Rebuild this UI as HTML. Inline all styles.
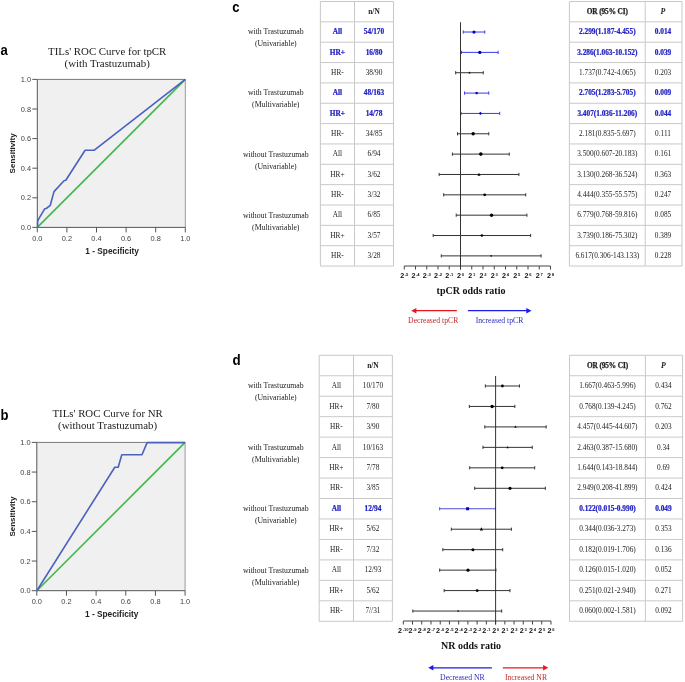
<!DOCTYPE html>
<html><head><meta charset="utf-8"><style>
html,body{margin:0;padding:0;background:#fff;}
body{width:685px;height:682px;overflow:hidden;font-family:"Liberation Sans", sans-serif;}
svg{display:block;will-change:transform;}
</style></head><body>
<svg width="685" height="682" viewBox="0 0 685 682">
<rect width="685" height="682" fill="#fff"/>
<text x="0.5" y="55" font-family='"Liberation Sans", sans-serif' font-size="15.2" font-weight="bold" font-style="normal" fill="#000" text-anchor="start"  textLength="7.27" lengthAdjust="spacingAndGlyphs">a</text>
<text x="107.2" y="54.6" font-family='"Liberation Serif", serif' font-size="10.85" font-weight="normal" font-style="normal" fill="#222" text-anchor="middle" >TILs' ROC Curve for tpCR</text>
<text x="107.2" y="66.8" font-family='"Liberation Serif", serif' font-size="10.85" font-weight="normal" font-style="normal" fill="#222" text-anchor="middle" >(with Trastuzumab)</text>
<rect x="37.3" y="79.4" width="148" height="148" fill="#f0f0f0"/>
<line x1="37.3" y1="79.4" x2="185.3" y2="79.4" stroke="#777" stroke-width="1" />
<line x1="185.3" y1="79.4" x2="185.3" y2="227.4" stroke="#999" stroke-width="1" />
<line x1="37.3" y1="79.4" x2="37.3" y2="227.4" stroke="#555" stroke-width="1" />
<line x1="37.3" y1="227.4" x2="185.3" y2="227.4" stroke="#555" stroke-width="1" />
<line x1="32.3" y1="227.4" x2="37.3" y2="227.4" stroke="#555" stroke-width="1" />
<text x="31" y="230" font-family='"Liberation Sans", sans-serif' font-size="7.4" font-weight="normal" font-style="normal" fill="#444" text-anchor="end" >0.0</text>
<line x1="37.3" y1="227.4" x2="37.3" y2="232.4" stroke="#555" stroke-width="1" />
<text x="37.3" y="240.8" font-family='"Liberation Sans", sans-serif' font-size="7.4" font-weight="normal" font-style="normal" fill="#444" text-anchor="middle" >0.0</text>
<line x1="32.3" y1="197.8" x2="37.3" y2="197.8" stroke="#555" stroke-width="1" />
<text x="31" y="200.4" font-family='"Liberation Sans", sans-serif' font-size="7.4" font-weight="normal" font-style="normal" fill="#444" text-anchor="end" >0.2</text>
<line x1="66.9" y1="227.4" x2="66.9" y2="232.4" stroke="#555" stroke-width="1" />
<text x="66.9" y="240.8" font-family='"Liberation Sans", sans-serif' font-size="7.4" font-weight="normal" font-style="normal" fill="#444" text-anchor="middle" >0.2</text>
<line x1="32.3" y1="168.2" x2="37.3" y2="168.2" stroke="#555" stroke-width="1" />
<text x="31" y="170.8" font-family='"Liberation Sans", sans-serif' font-size="7.4" font-weight="normal" font-style="normal" fill="#444" text-anchor="end" >0.4</text>
<line x1="96.5" y1="227.4" x2="96.5" y2="232.4" stroke="#555" stroke-width="1" />
<text x="96.5" y="240.8" font-family='"Liberation Sans", sans-serif' font-size="7.4" font-weight="normal" font-style="normal" fill="#444" text-anchor="middle" >0.4</text>
<line x1="32.3" y1="138.6" x2="37.3" y2="138.6" stroke="#555" stroke-width="1" />
<text x="31" y="141.2" font-family='"Liberation Sans", sans-serif' font-size="7.4" font-weight="normal" font-style="normal" fill="#444" text-anchor="end" >0.6</text>
<line x1="126.1" y1="227.4" x2="126.1" y2="232.4" stroke="#555" stroke-width="1" />
<text x="126.1" y="240.8" font-family='"Liberation Sans", sans-serif' font-size="7.4" font-weight="normal" font-style="normal" fill="#444" text-anchor="middle" >0.6</text>
<line x1="32.3" y1="109" x2="37.3" y2="109" stroke="#555" stroke-width="1" />
<text x="31" y="111.6" font-family='"Liberation Sans", sans-serif' font-size="7.4" font-weight="normal" font-style="normal" fill="#444" text-anchor="end" >0.8</text>
<line x1="155.7" y1="227.4" x2="155.7" y2="232.4" stroke="#555" stroke-width="1" />
<text x="155.7" y="240.8" font-family='"Liberation Sans", sans-serif' font-size="7.4" font-weight="normal" font-style="normal" fill="#444" text-anchor="middle" >0.8</text>
<line x1="32.3" y1="79.4" x2="37.3" y2="79.4" stroke="#555" stroke-width="1" />
<text x="31" y="82" font-family='"Liberation Sans", sans-serif' font-size="7.4" font-weight="normal" font-style="normal" fill="#444" text-anchor="end" >1.0</text>
<line x1="185.3" y1="227.4" x2="185.3" y2="232.4" stroke="#555" stroke-width="1" />
<text x="185.3" y="240.8" font-family='"Liberation Sans", sans-serif' font-size="7.4" font-weight="normal" font-style="normal" fill="#444" text-anchor="middle" >1.0</text>
<text x="14.6" y="153.4" font-family='"Liberation Sans", sans-serif' font-size="8.0" font-weight="bold" font-style="normal" fill="#222" text-anchor="middle" transform="rotate(-90 14.6 153.4)">Sensitivity</text>
<text x="112.1" y="254" font-family='"Liberation Sans", sans-serif' font-size="8.3" font-weight="bold" font-style="normal" fill="#222" text-anchor="middle" >1 - Specificity</text>
<line x1="37.3" y1="227.4" x2="185.3" y2="79.4" stroke="#3db94b" stroke-width="1.6" />
<polyline points="37.6,227.2 37.6,221.4 38.3,219.6 44.8,208.7 46.2,208.5 50.3,205.3 54,191.6 64,180.7 65.8,180.3 85.1,150.3 94,150.3 185.3,79.4" fill="none" stroke="#4a61bf" stroke-width="1.6" stroke-linejoin="round"/>
<text x="0.5" y="420" font-family='"Liberation Sans", sans-serif' font-size="15.2" font-weight="bold" font-style="normal" fill="#000" text-anchor="start"  textLength="7.99" lengthAdjust="spacingAndGlyphs">b</text>
<text x="107.6" y="417.1" font-family='"Liberation Serif", serif' font-size="10.85" font-weight="normal" font-style="normal" fill="#222" text-anchor="middle" >TILs' ROC Curve for NR</text>
<text x="107.6" y="428.7" font-family='"Liberation Serif", serif' font-size="10.85" font-weight="normal" font-style="normal" fill="#222" text-anchor="middle" >(without Trastuzumab)</text>
<rect x="36.8" y="442.4" width="148.3" height="148.3" fill="#f0f0f0"/>
<line x1="36.8" y1="442.4" x2="185.1" y2="442.4" stroke="#777" stroke-width="1" />
<line x1="185.1" y1="442.4" x2="185.1" y2="590.7" stroke="#999" stroke-width="1" />
<line x1="36.8" y1="442.4" x2="36.8" y2="590.7" stroke="#555" stroke-width="1" />
<line x1="36.8" y1="590.7" x2="185.1" y2="590.7" stroke="#555" stroke-width="1" />
<line x1="31.8" y1="590.7" x2="36.8" y2="590.7" stroke="#555" stroke-width="1" />
<text x="30.5" y="593.3" font-family='"Liberation Sans", sans-serif' font-size="7.4" font-weight="normal" font-style="normal" fill="#444" text-anchor="end" >0.0</text>
<line x1="36.8" y1="590.7" x2="36.8" y2="595.7" stroke="#555" stroke-width="1" />
<text x="36.8" y="604.1" font-family='"Liberation Sans", sans-serif' font-size="7.4" font-weight="normal" font-style="normal" fill="#444" text-anchor="middle" >0.0</text>
<line x1="31.8" y1="561.04" x2="36.8" y2="561.04" stroke="#555" stroke-width="1" />
<text x="30.5" y="563.64" font-family='"Liberation Sans", sans-serif' font-size="7.4" font-weight="normal" font-style="normal" fill="#444" text-anchor="end" >0.2</text>
<line x1="66.46" y1="590.7" x2="66.46" y2="595.7" stroke="#555" stroke-width="1" />
<text x="66.46" y="604.1" font-family='"Liberation Sans", sans-serif' font-size="7.4" font-weight="normal" font-style="normal" fill="#444" text-anchor="middle" >0.2</text>
<line x1="31.8" y1="531.38" x2="36.8" y2="531.38" stroke="#555" stroke-width="1" />
<text x="30.5" y="533.98" font-family='"Liberation Sans", sans-serif' font-size="7.4" font-weight="normal" font-style="normal" fill="#444" text-anchor="end" >0.4</text>
<line x1="96.12" y1="590.7" x2="96.12" y2="595.7" stroke="#555" stroke-width="1" />
<text x="96.12" y="604.1" font-family='"Liberation Sans", sans-serif' font-size="7.4" font-weight="normal" font-style="normal" fill="#444" text-anchor="middle" >0.4</text>
<line x1="31.8" y1="501.72" x2="36.8" y2="501.72" stroke="#555" stroke-width="1" />
<text x="30.5" y="504.32" font-family='"Liberation Sans", sans-serif' font-size="7.4" font-weight="normal" font-style="normal" fill="#444" text-anchor="end" >0.6</text>
<line x1="125.78" y1="590.7" x2="125.78" y2="595.7" stroke="#555" stroke-width="1" />
<text x="125.78" y="604.1" font-family='"Liberation Sans", sans-serif' font-size="7.4" font-weight="normal" font-style="normal" fill="#444" text-anchor="middle" >0.6</text>
<line x1="31.8" y1="472.06" x2="36.8" y2="472.06" stroke="#555" stroke-width="1" />
<text x="30.5" y="474.66" font-family='"Liberation Sans", sans-serif' font-size="7.4" font-weight="normal" font-style="normal" fill="#444" text-anchor="end" >0.8</text>
<line x1="155.44" y1="590.7" x2="155.44" y2="595.7" stroke="#555" stroke-width="1" />
<text x="155.44" y="604.1" font-family='"Liberation Sans", sans-serif' font-size="7.4" font-weight="normal" font-style="normal" fill="#444" text-anchor="middle" >0.8</text>
<line x1="31.8" y1="442.4" x2="36.8" y2="442.4" stroke="#555" stroke-width="1" />
<text x="30.5" y="445" font-family='"Liberation Sans", sans-serif' font-size="7.4" font-weight="normal" font-style="normal" fill="#444" text-anchor="end" >1.0</text>
<line x1="185.1" y1="590.7" x2="185.1" y2="595.7" stroke="#555" stroke-width="1" />
<text x="185.1" y="604.1" font-family='"Liberation Sans", sans-serif' font-size="7.4" font-weight="normal" font-style="normal" fill="#444" text-anchor="middle" >1.0</text>
<text x="14.6" y="516.55" font-family='"Liberation Sans", sans-serif' font-size="8.0" font-weight="bold" font-style="normal" fill="#222" text-anchor="middle" transform="rotate(-90 14.6 516.55)">Sensitivity</text>
<text x="111.75" y="617.3" font-family='"Liberation Sans", sans-serif' font-size="8.3" font-weight="bold" font-style="normal" fill="#222" text-anchor="middle" >1 - Specificity</text>
<line x1="36.8" y1="590.7" x2="185.1" y2="442.4" stroke="#3db94b" stroke-width="1.6" />
<polyline points="36.8,590.7 114.8,467.2 118.2,467.2 121.8,454.7 142,454.7 147.1,442.6 185.1,442.6" fill="none" stroke="#4a61bf" stroke-width="1.6" stroke-linejoin="round"/>
<text x="232.3" y="11.8" font-family='"Liberation Sans", sans-serif' font-size="15.2" font-weight="bold" font-style="normal" fill="#000" text-anchor="start"  textLength="7.27" lengthAdjust="spacingAndGlyphs">c</text>
<line x1="320.4" y1="1.5" x2="320.4" y2="266.05" stroke="#c9c9c9" stroke-width="1" />
<line x1="354.5" y1="1.5" x2="354.5" y2="266.05" stroke="#c9c9c9" stroke-width="1" />
<line x1="393.5" y1="1.5" x2="393.5" y2="266.05" stroke="#c9c9c9" stroke-width="1" />
<line x1="320.4" y1="1.5" x2="393.5" y2="1.5" stroke="#c9c9c9" stroke-width="1" />
<line x1="320.4" y1="21.85" x2="393.5" y2="21.85" stroke="#c9c9c9" stroke-width="1" />
<line x1="320.4" y1="42.2" x2="393.5" y2="42.2" stroke="#c9c9c9" stroke-width="1" />
<line x1="320.4" y1="62.55" x2="393.5" y2="62.55" stroke="#c9c9c9" stroke-width="1" />
<line x1="320.4" y1="82.9" x2="393.5" y2="82.9" stroke="#c9c9c9" stroke-width="1" />
<line x1="320.4" y1="103.25" x2="393.5" y2="103.25" stroke="#c9c9c9" stroke-width="1" />
<line x1="320.4" y1="123.6" x2="393.5" y2="123.6" stroke="#c9c9c9" stroke-width="1" />
<line x1="320.4" y1="143.95" x2="393.5" y2="143.95" stroke="#c9c9c9" stroke-width="1" />
<line x1="320.4" y1="164.3" x2="393.5" y2="164.3" stroke="#c9c9c9" stroke-width="1" />
<line x1="320.4" y1="184.65" x2="393.5" y2="184.65" stroke="#c9c9c9" stroke-width="1" />
<line x1="320.4" y1="205" x2="393.5" y2="205" stroke="#c9c9c9" stroke-width="1" />
<line x1="320.4" y1="225.35" x2="393.5" y2="225.35" stroke="#c9c9c9" stroke-width="1" />
<line x1="320.4" y1="245.7" x2="393.5" y2="245.7" stroke="#c9c9c9" stroke-width="1" />
<line x1="320.4" y1="266.05" x2="393.5" y2="266.05" stroke="#c9c9c9" stroke-width="1" />
<line x1="569.4" y1="1.5" x2="569.4" y2="266.05" stroke="#c9c9c9" stroke-width="1" />
<line x1="645.2" y1="1.5" x2="645.2" y2="266.05" stroke="#c9c9c9" stroke-width="1" />
<line x1="682" y1="1.5" x2="682" y2="266.05" stroke="#c9c9c9" stroke-width="1" />
<line x1="569.4" y1="1.5" x2="682" y2="1.5" stroke="#c9c9c9" stroke-width="1" />
<line x1="569.4" y1="21.85" x2="682" y2="21.85" stroke="#c9c9c9" stroke-width="1" />
<line x1="569.4" y1="42.2" x2="682" y2="42.2" stroke="#c9c9c9" stroke-width="1" />
<line x1="569.4" y1="62.55" x2="682" y2="62.55" stroke="#c9c9c9" stroke-width="1" />
<line x1="569.4" y1="82.9" x2="682" y2="82.9" stroke="#c9c9c9" stroke-width="1" />
<line x1="569.4" y1="103.25" x2="682" y2="103.25" stroke="#c9c9c9" stroke-width="1" />
<line x1="569.4" y1="123.6" x2="682" y2="123.6" stroke="#c9c9c9" stroke-width="1" />
<line x1="569.4" y1="143.95" x2="682" y2="143.95" stroke="#c9c9c9" stroke-width="1" />
<line x1="569.4" y1="164.3" x2="682" y2="164.3" stroke="#c9c9c9" stroke-width="1" />
<line x1="569.4" y1="184.65" x2="682" y2="184.65" stroke="#c9c9c9" stroke-width="1" />
<line x1="569.4" y1="205" x2="682" y2="205" stroke="#c9c9c9" stroke-width="1" />
<line x1="569.4" y1="225.35" x2="682" y2="225.35" stroke="#c9c9c9" stroke-width="1" />
<line x1="569.4" y1="245.7" x2="682" y2="245.7" stroke="#c9c9c9" stroke-width="1" />
<line x1="569.4" y1="266.05" x2="682" y2="266.05" stroke="#c9c9c9" stroke-width="1" />
<text x="374" y="13.98" font-family='"Liberation Serif", serif' font-size="7.4" font-weight="bold" font-style="normal" fill="#222" text-anchor="middle" >n/N</text>
<text x="607.3" y="13.98" font-family='"Liberation Serif", serif' font-size="7.3" font-weight="bold" font-style="normal" fill="#222" text-anchor="middle" letter-spacing="-0.1" stroke="#222" stroke-width="0.25">OR (95% CI)</text>
<text x="663" y="13.98" font-family='"Liberation Serif", serif' font-size="7.8" font-weight="bold" font-style="italic" fill="#222" text-anchor="middle" >P</text>
<text x="337.45" y="34.23" font-family='"Liberation Serif", serif' font-size="7.35" font-weight="bold" font-style="normal" fill="#2222c4" text-anchor="middle" stroke="#2222c4" stroke-width="0.22">All</text>
<text x="374" y="34.23" font-family='"Liberation Serif", serif' font-size="7.35" font-weight="bold" font-style="normal" fill="#2222c4" text-anchor="middle" stroke="#2222c4" stroke-width="0.22">54/170</text>
<text x="607.3" y="34.23" font-family='"Liberation Serif", serif' font-size="7.3" font-weight="bold" font-style="normal" fill="#2222c4" text-anchor="middle" stroke="#2222c4" stroke-width="0.22">2.299(1.187-4.455)</text>
<text x="663" y="34.23" font-family='"Liberation Serif", serif' font-size="7.3" font-weight="bold" font-style="normal" fill="#2222c4" text-anchor="middle" stroke="#2222c4" stroke-width="0.22">0.014</text>
<line x1="463.28" y1="32.03" x2="484.75" y2="32.03" stroke="#3a3aee" stroke-width="1" />
<line x1="463.28" y1="30.43" x2="463.28" y2="33.63" stroke="#3a3aee" stroke-width="1" />
<line x1="484.75" y1="30.43" x2="484.75" y2="33.63" stroke="#3a3aee" stroke-width="1" />
<circle cx="474.01" cy="32.03" r="1.6" fill="#0000cc"/>
<text x="337.45" y="54.58" font-family='"Liberation Serif", serif' font-size="7.35" font-weight="bold" font-style="normal" fill="#2222c4" text-anchor="middle" stroke="#2222c4" stroke-width="0.22">HR+</text>
<text x="374" y="54.58" font-family='"Liberation Serif", serif' font-size="7.35" font-weight="bold" font-style="normal" fill="#2222c4" text-anchor="middle" stroke="#2222c4" stroke-width="0.22">16/80</text>
<text x="607.3" y="54.58" font-family='"Liberation Serif", serif' font-size="7.3" font-weight="bold" font-style="normal" fill="#2222c4" text-anchor="middle" stroke="#2222c4" stroke-width="0.22">3.286(1.063-10.152)</text>
<text x="663" y="54.58" font-family='"Liberation Serif", serif' font-size="7.3" font-weight="bold" font-style="normal" fill="#2222c4" text-anchor="middle" stroke="#2222c4" stroke-width="0.22">0.039</text>
<line x1="461.49" y1="52.38" x2="498.12" y2="52.38" stroke="#3a3aee" stroke-width="1" />
<line x1="461.49" y1="50.77" x2="461.49" y2="53.98" stroke="#3a3aee" stroke-width="1" />
<line x1="498.12" y1="50.77" x2="498.12" y2="53.98" stroke="#3a3aee" stroke-width="1" />
<circle cx="479.81" cy="52.38" r="1.7" fill="#0000cc"/>
<text x="337.45" y="74.93" font-family='"Liberation Serif", serif' font-size="7.35" font-weight="normal" font-style="normal" fill="#222" text-anchor="middle" >HR-</text>
<text x="374" y="74.93" font-family='"Liberation Serif", serif' font-size="7.35" font-weight="normal" font-style="normal" fill="#222" text-anchor="middle" >38/90</text>
<text x="607.3" y="74.93" font-family='"Liberation Serif", serif' font-size="7.3" font-weight="normal" font-style="normal" fill="#222" text-anchor="middle" >1.737(0.742-4.065)</text>
<text x="663" y="74.93" font-family='"Liberation Serif", serif' font-size="7.3" font-weight="normal" font-style="normal" fill="#222" text-anchor="middle" >0.203</text>
<line x1="455.66" y1="72.73" x2="483.26" y2="72.73" stroke="#333" stroke-width="1" />
<line x1="455.66" y1="71.13" x2="455.66" y2="74.33" stroke="#333" stroke-width="1" />
<line x1="483.26" y1="71.13" x2="483.26" y2="74.33" stroke="#333" stroke-width="1" />
<polygon points="469.46,71.41 470.56,73.61 468.36,73.61" fill="#000"/>
<text x="337.45" y="95.28" font-family='"Liberation Serif", serif' font-size="7.35" font-weight="bold" font-style="normal" fill="#2222c4" text-anchor="middle" stroke="#2222c4" stroke-width="0.22">All</text>
<text x="374" y="95.28" font-family='"Liberation Serif", serif' font-size="7.35" font-weight="bold" font-style="normal" fill="#2222c4" text-anchor="middle" stroke="#2222c4" stroke-width="0.22">48/163</text>
<text x="607.3" y="95.28" font-family='"Liberation Serif", serif' font-size="7.3" font-weight="bold" font-style="normal" fill="#2222c4" text-anchor="middle" stroke="#2222c4" stroke-width="0.22">2.705(1.283-5.705)</text>
<text x="663" y="95.28" font-family='"Liberation Serif", serif' font-size="7.3" font-weight="bold" font-style="normal" fill="#2222c4" text-anchor="middle" stroke="#2222c4" stroke-width="0.22">0.009</text>
<line x1="464.54" y1="93.08" x2="488.76" y2="93.08" stroke="#3a3aee" stroke-width="1" />
<line x1="464.54" y1="91.48" x2="464.54" y2="94.67" stroke="#3a3aee" stroke-width="1" />
<line x1="488.76" y1="91.48" x2="488.76" y2="94.67" stroke="#3a3aee" stroke-width="1" />
<rect x="475.55" y="91.98" width="2.2" height="2.2" fill="#0000cc"/>
<text x="337.45" y="115.63" font-family='"Liberation Serif", serif' font-size="7.35" font-weight="bold" font-style="normal" fill="#2222c4" text-anchor="middle" stroke="#2222c4" stroke-width="0.22">HR+</text>
<text x="374" y="115.63" font-family='"Liberation Serif", serif' font-size="7.35" font-weight="bold" font-style="normal" fill="#2222c4" text-anchor="middle" stroke="#2222c4" stroke-width="0.22">14/78</text>
<text x="607.3" y="115.63" font-family='"Liberation Serif", serif' font-size="7.3" font-weight="bold" font-style="normal" fill="#2222c4" text-anchor="middle" stroke="#2222c4" stroke-width="0.22">3.407(1.036-11.206)</text>
<text x="663" y="115.63" font-family='"Liberation Serif", serif' font-size="7.3" font-weight="bold" font-style="normal" fill="#2222c4" text-anchor="middle" stroke="#2222c4" stroke-width="0.22">0.044</text>
<line x1="461.07" y1="113.43" x2="499.72" y2="113.43" stroke="#3a3aee" stroke-width="1" />
<line x1="461.07" y1="111.83" x2="461.07" y2="115.03" stroke="#3a3aee" stroke-width="1" />
<line x1="499.72" y1="111.83" x2="499.72" y2="115.03" stroke="#3a3aee" stroke-width="1" />
<polygon points="480.4,111.83 482,113.43 480.4,115.03 478.8,113.43" fill="#0000cc"/>
<text x="337.45" y="135.97" font-family='"Liberation Serif", serif' font-size="7.35" font-weight="normal" font-style="normal" fill="#222" text-anchor="middle" >HR-</text>
<text x="374" y="135.97" font-family='"Liberation Serif", serif' font-size="7.35" font-weight="normal" font-style="normal" fill="#222" text-anchor="middle" >34/85</text>
<text x="607.3" y="135.97" font-family='"Liberation Serif", serif' font-size="7.3" font-weight="normal" font-style="normal" fill="#222" text-anchor="middle" >2.181(0.835-5.697)</text>
<text x="663" y="135.97" font-family='"Liberation Serif", serif' font-size="7.3" font-weight="normal" font-style="normal" fill="#222" text-anchor="middle" >0.111</text>
<line x1="457.57" y1="133.78" x2="488.74" y2="133.78" stroke="#333" stroke-width="1" />
<line x1="457.57" y1="132.18" x2="457.57" y2="135.38" stroke="#333" stroke-width="1" />
<line x1="488.74" y1="132.18" x2="488.74" y2="135.38" stroke="#333" stroke-width="1" />
<circle cx="473.16" cy="133.78" r="1.7" fill="#000"/>
<text x="337.45" y="156.32" font-family='"Liberation Serif", serif' font-size="7.35" font-weight="normal" font-style="normal" fill="#222" text-anchor="middle" >All</text>
<text x="374" y="156.32" font-family='"Liberation Serif", serif' font-size="7.35" font-weight="normal" font-style="normal" fill="#222" text-anchor="middle" >6/94</text>
<text x="607.3" y="156.32" font-family='"Liberation Serif", serif' font-size="7.3" font-weight="normal" font-style="normal" fill="#222" text-anchor="middle" >3.500(0.607-20.183)</text>
<text x="663" y="156.32" font-family='"Liberation Serif", serif' font-size="7.3" font-weight="normal" font-style="normal" fill="#222" text-anchor="middle" >0.161</text>
<line x1="452.4" y1="154.12" x2="509.27" y2="154.12" stroke="#333" stroke-width="1" />
<line x1="452.4" y1="152.53" x2="452.4" y2="155.72" stroke="#333" stroke-width="1" />
<line x1="509.27" y1="152.53" x2="509.27" y2="155.72" stroke="#333" stroke-width="1" />
<circle cx="480.83" cy="154.12" r="1.8" fill="#000"/>
<text x="337.45" y="176.68" font-family='"Liberation Serif", serif' font-size="7.35" font-weight="normal" font-style="normal" fill="#222" text-anchor="middle" >HR+</text>
<text x="374" y="176.68" font-family='"Liberation Serif", serif' font-size="7.35" font-weight="normal" font-style="normal" fill="#222" text-anchor="middle" >3/62</text>
<text x="607.3" y="176.68" font-family='"Liberation Serif", serif' font-size="7.3" font-weight="normal" font-style="normal" fill="#222" text-anchor="middle" >3.130(0.268-36.524)</text>
<text x="663" y="176.68" font-family='"Liberation Serif", serif' font-size="7.3" font-weight="normal" font-style="normal" fill="#222" text-anchor="middle" >0.363</text>
<line x1="439.13" y1="174.48" x2="518.9" y2="174.48" stroke="#333" stroke-width="1" />
<line x1="439.13" y1="172.88" x2="439.13" y2="176.08" stroke="#333" stroke-width="1" />
<line x1="518.9" y1="172.88" x2="518.9" y2="176.08" stroke="#333" stroke-width="1" />
<polygon points="479.02,172.68 480.52,175.68 477.52,175.68" fill="#000"/>
<text x="337.45" y="197.03" font-family='"Liberation Serif", serif' font-size="7.35" font-weight="normal" font-style="normal" fill="#222" text-anchor="middle" >HR-</text>
<text x="374" y="197.03" font-family='"Liberation Serif", serif' font-size="7.35" font-weight="normal" font-style="normal" fill="#222" text-anchor="middle" >3/32</text>
<text x="607.3" y="197.03" font-family='"Liberation Serif", serif' font-size="7.3" font-weight="normal" font-style="normal" fill="#222" text-anchor="middle" >4.444(0.355-55.575)</text>
<text x="663" y="197.03" font-family='"Liberation Serif", serif' font-size="7.3" font-weight="normal" font-style="normal" fill="#222" text-anchor="middle" >0.247</text>
<line x1="443.69" y1="194.83" x2="525.71" y2="194.83" stroke="#333" stroke-width="1" />
<line x1="443.69" y1="193.23" x2="443.69" y2="196.43" stroke="#333" stroke-width="1" />
<line x1="525.71" y1="193.23" x2="525.71" y2="196.43" stroke="#333" stroke-width="1" />
<circle cx="484.71" cy="194.83" r="1.4" fill="#000"/>
<text x="337.45" y="217.38" font-family='"Liberation Serif", serif' font-size="7.35" font-weight="normal" font-style="normal" fill="#222" text-anchor="middle" >All</text>
<text x="374" y="217.38" font-family='"Liberation Serif", serif' font-size="7.35" font-weight="normal" font-style="normal" fill="#222" text-anchor="middle" >6/85</text>
<text x="607.3" y="217.38" font-family='"Liberation Serif", serif' font-size="7.3" font-weight="normal" font-style="normal" fill="#222" text-anchor="middle" >6.779(0.768-59.816)</text>
<text x="663" y="217.38" font-family='"Liberation Serif", serif' font-size="7.3" font-weight="normal" font-style="normal" fill="#222" text-anchor="middle" >0.085</text>
<line x1="456.22" y1="215.18" x2="526.9" y2="215.18" stroke="#333" stroke-width="1" />
<line x1="456.22" y1="213.58" x2="456.22" y2="216.78" stroke="#333" stroke-width="1" />
<line x1="526.9" y1="213.58" x2="526.9" y2="216.78" stroke="#333" stroke-width="1" />
<circle cx="491.56" cy="215.18" r="1.7" fill="#000"/>
<text x="337.45" y="237.72" font-family='"Liberation Serif", serif' font-size="7.35" font-weight="normal" font-style="normal" fill="#222" text-anchor="middle" >HR+</text>
<text x="374" y="237.72" font-family='"Liberation Serif", serif' font-size="7.35" font-weight="normal" font-style="normal" fill="#222" text-anchor="middle" >3/57</text>
<text x="607.3" y="237.72" font-family='"Liberation Serif", serif' font-size="7.3" font-weight="normal" font-style="normal" fill="#222" text-anchor="middle" >3.739(0.186-75.302)</text>
<text x="663" y="237.72" font-family='"Liberation Serif", serif' font-size="7.3" font-weight="normal" font-style="normal" fill="#222" text-anchor="middle" >0.389</text>
<line x1="433.2" y1="235.53" x2="530.64" y2="235.53" stroke="#333" stroke-width="1" />
<line x1="433.2" y1="233.93" x2="433.2" y2="237.12" stroke="#333" stroke-width="1" />
<line x1="530.64" y1="233.93" x2="530.64" y2="237.12" stroke="#333" stroke-width="1" />
<circle cx="481.9" cy="235.53" r="1.3" fill="#000"/>
<text x="337.45" y="258.08" font-family='"Liberation Serif", serif' font-size="7.35" font-weight="normal" font-style="normal" fill="#222" text-anchor="middle" >HR-</text>
<text x="374" y="258.08" font-family='"Liberation Serif", serif' font-size="7.35" font-weight="normal" font-style="normal" fill="#222" text-anchor="middle" >3/28</text>
<text x="607.3" y="258.08" font-family='"Liberation Serif", serif' font-size="7.3" font-weight="normal" font-style="normal" fill="#222" text-anchor="middle" >6.617(0.306-143.133)</text>
<text x="663" y="258.08" font-family='"Liberation Serif", serif' font-size="7.3" font-weight="normal" font-style="normal" fill="#222" text-anchor="middle" >0.228</text>
<line x1="441.28" y1="255.88" x2="541.06" y2="255.88" stroke="#333" stroke-width="1" />
<line x1="441.28" y1="254.28" x2="441.28" y2="257.48" stroke="#333" stroke-width="1" />
<line x1="541.06" y1="254.28" x2="541.06" y2="257.48" stroke="#333" stroke-width="1" />
<circle cx="491.17" cy="255.88" r="0.8" fill="#000"/>
<text x="275.8" y="34.43" font-family='"Liberation Serif", serif' font-size="7.75" font-weight="normal" font-style="normal" fill="#222" text-anchor="middle" >with Trastuzumab</text>
<text x="275.8" y="46.43" font-family='"Liberation Serif", serif' font-size="7.75" font-weight="normal" font-style="normal" fill="#222" text-anchor="middle" >(Univariable)</text>
<text x="275.8" y="95.48" font-family='"Liberation Serif", serif' font-size="7.75" font-weight="normal" font-style="normal" fill="#222" text-anchor="middle" >with Trastuzumab</text>
<text x="275.8" y="107.48" font-family='"Liberation Serif", serif' font-size="7.75" font-weight="normal" font-style="normal" fill="#222" text-anchor="middle" >(Multivariable)</text>
<text x="275.8" y="156.53" font-family='"Liberation Serif", serif' font-size="7.75" font-weight="normal" font-style="normal" fill="#222" text-anchor="middle" >without Trastuzumab</text>
<text x="275.8" y="168.53" font-family='"Liberation Serif", serif' font-size="7.75" font-weight="normal" font-style="normal" fill="#222" text-anchor="middle" >(Univariable)</text>
<text x="275.8" y="217.58" font-family='"Liberation Serif", serif' font-size="7.75" font-weight="normal" font-style="normal" fill="#222" text-anchor="middle" >without Trastuzumab</text>
<text x="275.8" y="229.58" font-family='"Liberation Serif", serif' font-size="7.75" font-weight="normal" font-style="normal" fill="#222" text-anchor="middle" >(Multivariable)</text>
<line x1="404.25" y1="266" x2="550.5" y2="266" stroke="#444" stroke-width="1" />
<line x1="404.25" y1="266" x2="404.25" y2="269.5" stroke="#444" stroke-width="1" />
<text y="277.7" font-family='"Liberation Sans", sans-serif' font-weight="bold" fill="#111" text-anchor="middle" x="404.25"><tspan font-size="7.2">2</tspan><tspan font-size="4.1" dy="-2.1" dx="0.6">-5</tspan></text>
<line x1="415.5" y1="266" x2="415.5" y2="269.5" stroke="#444" stroke-width="1" />
<text y="277.7" font-family='"Liberation Sans", sans-serif' font-weight="bold" fill="#111" text-anchor="middle" x="415.5"><tspan font-size="7.2">2</tspan><tspan font-size="4.1" dy="-2.1" dx="0.6">-4</tspan></text>
<line x1="426.75" y1="266" x2="426.75" y2="269.5" stroke="#444" stroke-width="1" />
<text y="277.7" font-family='"Liberation Sans", sans-serif' font-weight="bold" fill="#111" text-anchor="middle" x="426.75"><tspan font-size="7.2">2</tspan><tspan font-size="4.1" dy="-2.1" dx="0.6">-3</tspan></text>
<line x1="438" y1="266" x2="438" y2="269.5" stroke="#444" stroke-width="1" />
<text y="277.7" font-family='"Liberation Sans", sans-serif' font-weight="bold" fill="#111" text-anchor="middle" x="438"><tspan font-size="7.2">2</tspan><tspan font-size="4.1" dy="-2.1" dx="0.6">-2</tspan></text>
<line x1="449.25" y1="266" x2="449.25" y2="269.5" stroke="#444" stroke-width="1" />
<text y="277.7" font-family='"Liberation Sans", sans-serif' font-weight="bold" fill="#111" text-anchor="middle" x="449.25"><tspan font-size="7.2">2</tspan><tspan font-size="4.1" dy="-2.1" dx="0.6">-1</tspan></text>
<line x1="460.5" y1="266" x2="460.5" y2="269.5" stroke="#444" stroke-width="1" />
<text y="277.7" font-family='"Liberation Sans", sans-serif' font-weight="bold" fill="#111" text-anchor="middle" x="460.5"><tspan font-size="7.2">2</tspan><tspan font-size="4.1" dy="-2.1" dx="0.6">0</tspan></text>
<line x1="471.75" y1="266" x2="471.75" y2="269.5" stroke="#444" stroke-width="1" />
<text y="277.7" font-family='"Liberation Sans", sans-serif' font-weight="bold" fill="#111" text-anchor="middle" x="471.75"><tspan font-size="7.2">2</tspan><tspan font-size="4.1" dy="-2.1" dx="0.6">1</tspan></text>
<line x1="483" y1="266" x2="483" y2="269.5" stroke="#444" stroke-width="1" />
<text y="277.7" font-family='"Liberation Sans", sans-serif' font-weight="bold" fill="#111" text-anchor="middle" x="483"><tspan font-size="7.2">2</tspan><tspan font-size="4.1" dy="-2.1" dx="0.6">2</tspan></text>
<line x1="494.25" y1="266" x2="494.25" y2="269.5" stroke="#444" stroke-width="1" />
<text y="277.7" font-family='"Liberation Sans", sans-serif' font-weight="bold" fill="#111" text-anchor="middle" x="494.25"><tspan font-size="7.2">2</tspan><tspan font-size="4.1" dy="-2.1" dx="0.6">3</tspan></text>
<line x1="505.5" y1="266" x2="505.5" y2="269.5" stroke="#444" stroke-width="1" />
<text y="277.7" font-family='"Liberation Sans", sans-serif' font-weight="bold" fill="#111" text-anchor="middle" x="505.5"><tspan font-size="7.2">2</tspan><tspan font-size="4.1" dy="-2.1" dx="0.6">4</tspan></text>
<line x1="516.75" y1="266" x2="516.75" y2="269.5" stroke="#444" stroke-width="1" />
<text y="277.7" font-family='"Liberation Sans", sans-serif' font-weight="bold" fill="#111" text-anchor="middle" x="516.75"><tspan font-size="7.2">2</tspan><tspan font-size="4.1" dy="-2.1" dx="0.6">5</tspan></text>
<line x1="528" y1="266" x2="528" y2="269.5" stroke="#444" stroke-width="1" />
<text y="277.7" font-family='"Liberation Sans", sans-serif' font-weight="bold" fill="#111" text-anchor="middle" x="528"><tspan font-size="7.2">2</tspan><tspan font-size="4.1" dy="-2.1" dx="0.6">6</tspan></text>
<line x1="539.25" y1="266" x2="539.25" y2="269.5" stroke="#444" stroke-width="1" />
<text y="277.7" font-family='"Liberation Sans", sans-serif' font-weight="bold" fill="#111" text-anchor="middle" x="539.25"><tspan font-size="7.2">2</tspan><tspan font-size="4.1" dy="-2.1" dx="0.6">7</tspan></text>
<line x1="550.5" y1="266" x2="550.5" y2="269.5" stroke="#444" stroke-width="1" />
<text y="277.7" font-family='"Liberation Sans", sans-serif' font-weight="bold" fill="#111" text-anchor="middle" x="550.5"><tspan font-size="7.2">2</tspan><tspan font-size="4.1" dy="-2.1" dx="0.6">8</tspan></text>
<line x1="460.5" y1="22.2" x2="460.5" y2="269.5" stroke="#333" stroke-width="1" />
<text x="471" y="294.3" font-family='"Liberation Serif", serif' font-size="10" font-weight="bold" font-style="normal" fill="#111" text-anchor="middle" >tpCR odds ratio</text>
<line x1="456.8" y1="310.7" x2="414.7" y2="310.7" stroke="#e8161b" stroke-width="1.3" />
<polygon points="411.2,310.7 416.4,308 416.4,313.4" fill="#e8161b"/>
<text x="433.2" y="323.2" font-family='"Liberation Serif", serif' font-size="7.7" font-weight="normal" font-style="normal" fill="#c42828" text-anchor="middle" >Decreased tpCR</text>
<line x1="467.9" y1="310.7" x2="528" y2="310.7" stroke="#1c1ce8" stroke-width="1.3" />
<polygon points="531.5,310.7 526.3,308 526.3,313.4" fill="#1c1ce8"/>
<text x="499.5" y="323.2" font-family='"Liberation Serif", serif' font-size="7.7" font-weight="normal" font-style="normal" fill="#2c2cb8" text-anchor="middle" >Increased tpCR</text>
<text x="232.5" y="365" font-family='"Liberation Sans", sans-serif' font-size="15.2" font-weight="bold" font-style="normal" fill="#000" text-anchor="start"  textLength="8.17" lengthAdjust="spacingAndGlyphs">d</text>
<line x1="319.2" y1="355.3" x2="319.2" y2="621.28" stroke="#c9c9c9" stroke-width="1" />
<line x1="353.5" y1="355.3" x2="353.5" y2="621.28" stroke="#c9c9c9" stroke-width="1" />
<line x1="392.4" y1="355.3" x2="392.4" y2="621.28" stroke="#c9c9c9" stroke-width="1" />
<line x1="319.2" y1="355.3" x2="392.4" y2="355.3" stroke="#c9c9c9" stroke-width="1" />
<line x1="319.2" y1="375.76" x2="392.4" y2="375.76" stroke="#c9c9c9" stroke-width="1" />
<line x1="319.2" y1="396.22" x2="392.4" y2="396.22" stroke="#c9c9c9" stroke-width="1" />
<line x1="319.2" y1="416.68" x2="392.4" y2="416.68" stroke="#c9c9c9" stroke-width="1" />
<line x1="319.2" y1="437.14" x2="392.4" y2="437.14" stroke="#c9c9c9" stroke-width="1" />
<line x1="319.2" y1="457.6" x2="392.4" y2="457.6" stroke="#c9c9c9" stroke-width="1" />
<line x1="319.2" y1="478.06" x2="392.4" y2="478.06" stroke="#c9c9c9" stroke-width="1" />
<line x1="319.2" y1="498.52" x2="392.4" y2="498.52" stroke="#c9c9c9" stroke-width="1" />
<line x1="319.2" y1="518.98" x2="392.4" y2="518.98" stroke="#c9c9c9" stroke-width="1" />
<line x1="319.2" y1="539.44" x2="392.4" y2="539.44" stroke="#c9c9c9" stroke-width="1" />
<line x1="319.2" y1="559.9" x2="392.4" y2="559.9" stroke="#c9c9c9" stroke-width="1" />
<line x1="319.2" y1="580.36" x2="392.4" y2="580.36" stroke="#c9c9c9" stroke-width="1" />
<line x1="319.2" y1="600.82" x2="392.4" y2="600.82" stroke="#c9c9c9" stroke-width="1" />
<line x1="319.2" y1="621.28" x2="392.4" y2="621.28" stroke="#c9c9c9" stroke-width="1" />
<line x1="569.5" y1="355.3" x2="569.5" y2="621.28" stroke="#c9c9c9" stroke-width="1" />
<line x1="645.4" y1="355.3" x2="645.4" y2="621.28" stroke="#c9c9c9" stroke-width="1" />
<line x1="682.6" y1="355.3" x2="682.6" y2="621.28" stroke="#c9c9c9" stroke-width="1" />
<line x1="569.5" y1="355.3" x2="682.6" y2="355.3" stroke="#c9c9c9" stroke-width="1" />
<line x1="569.5" y1="375.76" x2="682.6" y2="375.76" stroke="#c9c9c9" stroke-width="1" />
<line x1="569.5" y1="396.22" x2="682.6" y2="396.22" stroke="#c9c9c9" stroke-width="1" />
<line x1="569.5" y1="416.68" x2="682.6" y2="416.68" stroke="#c9c9c9" stroke-width="1" />
<line x1="569.5" y1="437.14" x2="682.6" y2="437.14" stroke="#c9c9c9" stroke-width="1" />
<line x1="569.5" y1="457.6" x2="682.6" y2="457.6" stroke="#c9c9c9" stroke-width="1" />
<line x1="569.5" y1="478.06" x2="682.6" y2="478.06" stroke="#c9c9c9" stroke-width="1" />
<line x1="569.5" y1="498.52" x2="682.6" y2="498.52" stroke="#c9c9c9" stroke-width="1" />
<line x1="569.5" y1="518.98" x2="682.6" y2="518.98" stroke="#c9c9c9" stroke-width="1" />
<line x1="569.5" y1="539.44" x2="682.6" y2="539.44" stroke="#c9c9c9" stroke-width="1" />
<line x1="569.5" y1="559.9" x2="682.6" y2="559.9" stroke="#c9c9c9" stroke-width="1" />
<line x1="569.5" y1="580.36" x2="682.6" y2="580.36" stroke="#c9c9c9" stroke-width="1" />
<line x1="569.5" y1="600.82" x2="682.6" y2="600.82" stroke="#c9c9c9" stroke-width="1" />
<line x1="569.5" y1="621.28" x2="682.6" y2="621.28" stroke="#c9c9c9" stroke-width="1" />
<text x="372.95" y="367.83" font-family='"Liberation Serif", serif' font-size="7.4" font-weight="bold" font-style="normal" fill="#222" text-anchor="middle" >n/N</text>
<text x="607.45" y="367.83" font-family='"Liberation Serif", serif' font-size="7.3" font-weight="bold" font-style="normal" fill="#222" text-anchor="middle" letter-spacing="-0.1" stroke="#222" stroke-width="0.25">OR (95% CI)</text>
<text x="663.4" y="367.83" font-family='"Liberation Serif", serif' font-size="7.8" font-weight="bold" font-style="italic" fill="#222" text-anchor="middle" >P</text>
<text x="336.35" y="388.19" font-family='"Liberation Serif", serif' font-size="7.35" font-weight="normal" font-style="normal" fill="#222" text-anchor="middle" >All</text>
<text x="372.95" y="388.19" font-family='"Liberation Serif", serif' font-size="7.35" font-weight="normal" font-style="normal" fill="#222" text-anchor="middle" >10/170</text>
<text x="607.45" y="388.19" font-family='"Liberation Serif", serif' font-size="7.3" font-weight="normal" font-style="normal" fill="#222" text-anchor="middle" >1.667(0.463-5.996)</text>
<text x="663.4" y="388.19" font-family='"Liberation Serif", serif' font-size="7.3" font-weight="normal" font-style="normal" fill="#222" text-anchor="middle" >0.434</text>
<line x1="485.35" y1="385.99" x2="519.45" y2="385.99" stroke="#333" stroke-width="1" />
<line x1="485.35" y1="384.39" x2="485.35" y2="387.59" stroke="#333" stroke-width="1" />
<line x1="519.45" y1="384.39" x2="519.45" y2="387.59" stroke="#333" stroke-width="1" />
<circle cx="502.4" cy="385.99" r="1.4" fill="#000"/>
<text x="336.35" y="408.65" font-family='"Liberation Serif", serif' font-size="7.35" font-weight="normal" font-style="normal" fill="#222" text-anchor="middle" >HR+</text>
<text x="372.95" y="408.65" font-family='"Liberation Serif", serif' font-size="7.35" font-weight="normal" font-style="normal" fill="#222" text-anchor="middle" >7/80</text>
<text x="607.45" y="408.65" font-family='"Liberation Serif", serif' font-size="7.3" font-weight="normal" font-style="normal" fill="#222" text-anchor="middle" >0.768(0.139-4.245)</text>
<text x="663.4" y="408.65" font-family='"Liberation Serif", serif' font-size="7.3" font-weight="normal" font-style="normal" fill="#222" text-anchor="middle" >0.762</text>
<line x1="469.32" y1="406.45" x2="514.85" y2="406.45" stroke="#333" stroke-width="1" />
<line x1="469.32" y1="404.85" x2="469.32" y2="408.05" stroke="#333" stroke-width="1" />
<line x1="514.85" y1="404.85" x2="514.85" y2="408.05" stroke="#333" stroke-width="1" />
<circle cx="492.09" cy="406.45" r="1.7" fill="#000"/>
<text x="336.35" y="429.11" font-family='"Liberation Serif", serif' font-size="7.35" font-weight="normal" font-style="normal" fill="#222" text-anchor="middle" >HR-</text>
<text x="372.95" y="429.11" font-family='"Liberation Serif", serif' font-size="7.35" font-weight="normal" font-style="normal" fill="#222" text-anchor="middle" >3/90</text>
<text x="607.45" y="429.11" font-family='"Liberation Serif", serif' font-size="7.3" font-weight="normal" font-style="normal" fill="#222" text-anchor="middle" >4.457(0.445-44.607)</text>
<text x="663.4" y="429.11" font-family='"Liberation Serif", serif' font-size="7.3" font-weight="normal" font-style="normal" fill="#222" text-anchor="middle" >0.203</text>
<line x1="484.82" y1="426.91" x2="546.17" y2="426.91" stroke="#333" stroke-width="1" />
<line x1="484.82" y1="425.31" x2="484.82" y2="428.51" stroke="#333" stroke-width="1" />
<line x1="546.17" y1="425.31" x2="546.17" y2="428.51" stroke="#333" stroke-width="1" />
<polygon points="515.5,425.59 516.6,427.79 514.4,427.79" fill="#000"/>
<text x="336.35" y="449.57" font-family='"Liberation Serif", serif' font-size="7.35" font-weight="normal" font-style="normal" fill="#222" text-anchor="middle" >All</text>
<text x="372.95" y="449.57" font-family='"Liberation Serif", serif' font-size="7.35" font-weight="normal" font-style="normal" fill="#222" text-anchor="middle" >10/163</text>
<text x="607.45" y="449.57" font-family='"Liberation Serif", serif' font-size="7.3" font-weight="normal" font-style="normal" fill="#222" text-anchor="middle" >2.463(0.387-15.680)</text>
<text x="663.4" y="449.57" font-family='"Liberation Serif", serif' font-size="7.3" font-weight="normal" font-style="normal" fill="#222" text-anchor="middle" >0.34</text>
<line x1="482.96" y1="447.37" x2="532.25" y2="447.37" stroke="#333" stroke-width="1" />
<line x1="482.96" y1="445.77" x2="482.96" y2="448.97" stroke="#333" stroke-width="1" />
<line x1="532.25" y1="445.77" x2="532.25" y2="448.97" stroke="#333" stroke-width="1" />
<polygon points="507.6,446.05 508.7,448.25 506.5,448.25" fill="#000"/>
<text x="336.35" y="470.03" font-family='"Liberation Serif", serif' font-size="7.35" font-weight="normal" font-style="normal" fill="#222" text-anchor="middle" >HR+</text>
<text x="372.95" y="470.03" font-family='"Liberation Serif", serif' font-size="7.35" font-weight="normal" font-style="normal" fill="#222" text-anchor="middle" >7/78</text>
<text x="607.45" y="470.03" font-family='"Liberation Serif", serif' font-size="7.3" font-weight="normal" font-style="normal" fill="#222" text-anchor="middle" >1.644(0.143-18.844)</text>
<text x="663.4" y="470.03" font-family='"Liberation Serif", serif' font-size="7.3" font-weight="normal" font-style="normal" fill="#222" text-anchor="middle" >0.69</text>
<line x1="469.7" y1="467.83" x2="534.7" y2="467.83" stroke="#333" stroke-width="1" />
<line x1="469.7" y1="466.23" x2="469.7" y2="469.43" stroke="#333" stroke-width="1" />
<line x1="534.7" y1="466.23" x2="534.7" y2="469.43" stroke="#333" stroke-width="1" />
<circle cx="502.22" cy="467.83" r="1.4" fill="#000"/>
<text x="336.35" y="490.49" font-family='"Liberation Serif", serif' font-size="7.35" font-weight="normal" font-style="normal" fill="#222" text-anchor="middle" >HR-</text>
<text x="372.95" y="490.49" font-family='"Liberation Serif", serif' font-size="7.35" font-weight="normal" font-style="normal" fill="#222" text-anchor="middle" >3/85</text>
<text x="607.45" y="490.49" font-family='"Liberation Serif", serif' font-size="7.3" font-weight="normal" font-style="normal" fill="#222" text-anchor="middle" >2.949(0.208-41.899)</text>
<text x="663.4" y="490.49" font-family='"Liberation Serif", serif' font-size="7.3" font-weight="normal" font-style="normal" fill="#222" text-anchor="middle" >0.424</text>
<line x1="474.69" y1="488.29" x2="545.34" y2="488.29" stroke="#333" stroke-width="1" />
<line x1="474.69" y1="486.69" x2="474.69" y2="489.89" stroke="#333" stroke-width="1" />
<line x1="545.34" y1="486.69" x2="545.34" y2="489.89" stroke="#333" stroke-width="1" />
<circle cx="510" cy="488.29" r="1.6" fill="#000"/>
<text x="336.35" y="510.95" font-family='"Liberation Serif", serif' font-size="7.35" font-weight="bold" font-style="normal" fill="#2222c4" text-anchor="middle" stroke="#2222c4" stroke-width="0.22">All</text>
<text x="372.95" y="510.95" font-family='"Liberation Serif", serif' font-size="7.35" font-weight="bold" font-style="normal" fill="#2222c4" text-anchor="middle" stroke="#2222c4" stroke-width="0.22">12/94</text>
<text x="607.45" y="510.95" font-family='"Liberation Serif", serif' font-size="7.3" font-weight="bold" font-style="normal" fill="#2222c4" text-anchor="middle" stroke="#2222c4" stroke-width="0.22">0.122(0.015-0.990)</text>
<text x="663.4" y="510.95" font-family='"Liberation Serif", serif' font-size="7.3" font-weight="bold" font-style="normal" fill="#2222c4" text-anchor="middle" stroke="#2222c4" stroke-width="0.22">0.049</text>
<line x1="439.68" y1="508.75" x2="495.47" y2="508.75" stroke="#4f4fd6" stroke-width="1" />
<line x1="439.68" y1="507.15" x2="439.68" y2="510.35" stroke="#4f4fd6" stroke-width="1" />
<line x1="495.47" y1="507.15" x2="495.47" y2="510.35" stroke="#4f4fd6" stroke-width="1" />
<rect x="466.09" y="507.25" width="3" height="3" fill="#0000cc"/>
<text x="336.35" y="531.41" font-family='"Liberation Serif", serif' font-size="7.35" font-weight="normal" font-style="normal" fill="#222" text-anchor="middle" >HR+</text>
<text x="372.95" y="531.41" font-family='"Liberation Serif", serif' font-size="7.35" font-weight="normal" font-style="normal" fill="#222" text-anchor="middle" >5/62</text>
<text x="607.45" y="531.41" font-family='"Liberation Serif", serif' font-size="7.3" font-weight="normal" font-style="normal" fill="#222" text-anchor="middle" >0.344(0.036-3.273)</text>
<text x="663.4" y="531.41" font-family='"Liberation Serif", serif' font-size="7.3" font-weight="normal" font-style="normal" fill="#222" text-anchor="middle" >0.353</text>
<line x1="451.33" y1="529.21" x2="511.39" y2="529.21" stroke="#333" stroke-width="1" />
<line x1="451.33" y1="527.61" x2="451.33" y2="530.81" stroke="#333" stroke-width="1" />
<line x1="511.39" y1="527.61" x2="511.39" y2="530.81" stroke="#333" stroke-width="1" />
<polygon points="481.39,527.29 482.99,530.49 479.79,530.49" fill="#000"/>
<text x="336.35" y="551.87" font-family='"Liberation Serif", serif' font-size="7.35" font-weight="normal" font-style="normal" fill="#222" text-anchor="middle" >HR-</text>
<text x="372.95" y="551.87" font-family='"Liberation Serif", serif' font-size="7.35" font-weight="normal" font-style="normal" fill="#222" text-anchor="middle" >7/32</text>
<text x="607.45" y="551.87" font-family='"Liberation Serif", serif' font-size="7.3" font-weight="normal" font-style="normal" fill="#222" text-anchor="middle" >0.182(0.019-1.706)</text>
<text x="663.4" y="551.87" font-family='"Liberation Serif", serif' font-size="7.3" font-weight="normal" font-style="normal" fill="#222" text-anchor="middle" >0.136</text>
<line x1="442.82" y1="549.67" x2="502.71" y2="549.67" stroke="#333" stroke-width="1" />
<line x1="442.82" y1="548.07" x2="442.82" y2="551.27" stroke="#333" stroke-width="1" />
<line x1="502.71" y1="548.07" x2="502.71" y2="551.27" stroke="#333" stroke-width="1" />
<circle cx="472.91" cy="549.67" r="1.5" fill="#000"/>
<text x="336.35" y="572.33" font-family='"Liberation Serif", serif' font-size="7.35" font-weight="normal" font-style="normal" fill="#222" text-anchor="middle" >All</text>
<text x="372.95" y="572.33" font-family='"Liberation Serif", serif' font-size="7.35" font-weight="normal" font-style="normal" fill="#222" text-anchor="middle" >12/93</text>
<text x="607.45" y="572.33" font-family='"Liberation Serif", serif' font-size="7.3" font-weight="normal" font-style="normal" fill="#222" text-anchor="middle" >0.126(0.015-1.020)</text>
<text x="663.4" y="572.33" font-family='"Liberation Serif", serif' font-size="7.3" font-weight="normal" font-style="normal" fill="#222" text-anchor="middle" >0.052</text>
<line x1="439.68" y1="570.13" x2="495.86" y2="570.13" stroke="#333" stroke-width="1" />
<line x1="439.68" y1="568.53" x2="439.68" y2="571.73" stroke="#333" stroke-width="1" />
<line x1="495.86" y1="568.53" x2="495.86" y2="571.73" stroke="#333" stroke-width="1" />
<circle cx="468.02" cy="570.13" r="1.6" fill="#000"/>
<text x="336.35" y="592.79" font-family='"Liberation Serif", serif' font-size="7.35" font-weight="normal" font-style="normal" fill="#222" text-anchor="middle" >HR+</text>
<text x="372.95" y="592.79" font-family='"Liberation Serif", serif' font-size="7.35" font-weight="normal" font-style="normal" fill="#222" text-anchor="middle" >5/62</text>
<text x="607.45" y="592.79" font-family='"Liberation Serif", serif' font-size="7.3" font-weight="normal" font-style="normal" fill="#222" text-anchor="middle" >0.251(0.021-2.940)</text>
<text x="663.4" y="592.79" font-family='"Liberation Serif", serif' font-size="7.3" font-weight="normal" font-style="normal" fill="#222" text-anchor="middle" >0.271</text>
<line x1="444.16" y1="590.59" x2="509.96" y2="590.59" stroke="#333" stroke-width="1" />
<line x1="444.16" y1="588.99" x2="444.16" y2="592.19" stroke="#333" stroke-width="1" />
<line x1="509.96" y1="588.99" x2="509.96" y2="592.19" stroke="#333" stroke-width="1" />
<circle cx="477.19" cy="590.59" r="1.4" fill="#000"/>
<text x="336.35" y="613.25" font-family='"Liberation Serif", serif' font-size="7.35" font-weight="normal" font-style="normal" fill="#222" text-anchor="middle" >HR-</text>
<text x="372.95" y="613.25" font-family='"Liberation Serif", serif' font-size="7.35" font-weight="normal" font-style="normal" fill="#222" text-anchor="middle" >7//31</text>
<text x="607.45" y="613.25" font-family='"Liberation Serif", serif' font-size="7.3" font-weight="normal" font-style="normal" fill="#222" text-anchor="middle" >0.060(0.002-1.581)</text>
<text x="663.4" y="613.25" font-family='"Liberation Serif", serif' font-size="7.3" font-weight="normal" font-style="normal" fill="#222" text-anchor="middle" >0.092</text>
<line x1="412.85" y1="611.05" x2="501.7" y2="611.05" stroke="#333" stroke-width="1" />
<line x1="412.85" y1="609.45" x2="412.85" y2="612.65" stroke="#333" stroke-width="1" />
<line x1="501.7" y1="609.45" x2="501.7" y2="612.65" stroke="#333" stroke-width="1" />
<circle cx="458.14" cy="611.05" r="0.8" fill="#000"/>
<text x="275.8" y="388.39" font-family='"Liberation Serif", serif' font-size="7.75" font-weight="normal" font-style="normal" fill="#222" text-anchor="middle" >with Trastuzumab</text>
<text x="275.8" y="400.39" font-family='"Liberation Serif", serif' font-size="7.75" font-weight="normal" font-style="normal" fill="#222" text-anchor="middle" >(Univariable)</text>
<text x="275.8" y="449.77" font-family='"Liberation Serif", serif' font-size="7.75" font-weight="normal" font-style="normal" fill="#222" text-anchor="middle" >with Trastuzumab</text>
<text x="275.8" y="461.77" font-family='"Liberation Serif", serif' font-size="7.75" font-weight="normal" font-style="normal" fill="#222" text-anchor="middle" >(Multivariable)</text>
<text x="275.8" y="511.15" font-family='"Liberation Serif", serif' font-size="7.75" font-weight="normal" font-style="normal" fill="#222" text-anchor="middle" >without Trastuzumab</text>
<text x="275.8" y="523.15" font-family='"Liberation Serif", serif' font-size="7.75" font-weight="normal" font-style="normal" fill="#222" text-anchor="middle" >(Univariable)</text>
<text x="275.8" y="572.53" font-family='"Liberation Serif", serif' font-size="7.75" font-weight="normal" font-style="normal" fill="#222" text-anchor="middle" >without Trastuzumab</text>
<text x="275.8" y="584.53" font-family='"Liberation Serif", serif' font-size="7.75" font-weight="normal" font-style="normal" fill="#222" text-anchor="middle" >(Multivariable)</text>
<line x1="403.3" y1="621" x2="550.98" y2="621" stroke="#444" stroke-width="1" />
<line x1="403.3" y1="621" x2="403.3" y2="624.5" stroke="#444" stroke-width="1" />
<text y="632.7" font-family='"Liberation Sans", sans-serif' font-weight="bold" fill="#111" text-anchor="middle" x="403.3"><tspan font-size="7.2">2</tspan><tspan font-size="4.1" dy="-2.1" dx="0.6">-10</tspan></text>
<line x1="412.53" y1="621" x2="412.53" y2="624.5" stroke="#444" stroke-width="1" />
<text y="632.7" font-family='"Liberation Sans", sans-serif' font-weight="bold" fill="#111" text-anchor="middle" x="412.53"><tspan font-size="7.2">2</tspan><tspan font-size="4.1" dy="-2.1" dx="0.6">-9</tspan></text>
<line x1="421.76" y1="621" x2="421.76" y2="624.5" stroke="#444" stroke-width="1" />
<text y="632.7" font-family='"Liberation Sans", sans-serif' font-weight="bold" fill="#111" text-anchor="middle" x="421.76"><tspan font-size="7.2">2</tspan><tspan font-size="4.1" dy="-2.1" dx="0.6">-8</tspan></text>
<line x1="430.99" y1="621" x2="430.99" y2="624.5" stroke="#444" stroke-width="1" />
<text y="632.7" font-family='"Liberation Sans", sans-serif' font-weight="bold" fill="#111" text-anchor="middle" x="430.99"><tspan font-size="7.2">2</tspan><tspan font-size="4.1" dy="-2.1" dx="0.6">-7</tspan></text>
<line x1="440.22" y1="621" x2="440.22" y2="624.5" stroke="#444" stroke-width="1" />
<text y="632.7" font-family='"Liberation Sans", sans-serif' font-weight="bold" fill="#111" text-anchor="middle" x="440.22"><tspan font-size="7.2">2</tspan><tspan font-size="4.1" dy="-2.1" dx="0.6">-6</tspan></text>
<line x1="449.45" y1="621" x2="449.45" y2="624.5" stroke="#444" stroke-width="1" />
<text y="632.7" font-family='"Liberation Sans", sans-serif' font-weight="bold" fill="#111" text-anchor="middle" x="449.45"><tspan font-size="7.2">2</tspan><tspan font-size="4.1" dy="-2.1" dx="0.6">-5</tspan></text>
<line x1="458.68" y1="621" x2="458.68" y2="624.5" stroke="#444" stroke-width="1" />
<text y="632.7" font-family='"Liberation Sans", sans-serif' font-weight="bold" fill="#111" text-anchor="middle" x="458.68"><tspan font-size="7.2">2</tspan><tspan font-size="4.1" dy="-2.1" dx="0.6">-4</tspan></text>
<line x1="467.91" y1="621" x2="467.91" y2="624.5" stroke="#444" stroke-width="1" />
<text y="632.7" font-family='"Liberation Sans", sans-serif' font-weight="bold" fill="#111" text-anchor="middle" x="467.91"><tspan font-size="7.2">2</tspan><tspan font-size="4.1" dy="-2.1" dx="0.6">-3</tspan></text>
<line x1="477.14" y1="621" x2="477.14" y2="624.5" stroke="#444" stroke-width="1" />
<text y="632.7" font-family='"Liberation Sans", sans-serif' font-weight="bold" fill="#111" text-anchor="middle" x="477.14"><tspan font-size="7.2">2</tspan><tspan font-size="4.1" dy="-2.1" dx="0.6">-2</tspan></text>
<line x1="486.37" y1="621" x2="486.37" y2="624.5" stroke="#444" stroke-width="1" />
<text y="632.7" font-family='"Liberation Sans", sans-serif' font-weight="bold" fill="#111" text-anchor="middle" x="486.37"><tspan font-size="7.2">2</tspan><tspan font-size="4.1" dy="-2.1" dx="0.6">-1</tspan></text>
<line x1="495.6" y1="621" x2="495.6" y2="624.5" stroke="#444" stroke-width="1" />
<text y="632.7" font-family='"Liberation Sans", sans-serif' font-weight="bold" fill="#111" text-anchor="middle" x="495.6"><tspan font-size="7.2">2</tspan><tspan font-size="4.1" dy="-2.1" dx="0.6">0</tspan></text>
<line x1="504.83" y1="621" x2="504.83" y2="624.5" stroke="#444" stroke-width="1" />
<text y="632.7" font-family='"Liberation Sans", sans-serif' font-weight="bold" fill="#111" text-anchor="middle" x="504.83"><tspan font-size="7.2">2</tspan><tspan font-size="4.1" dy="-2.1" dx="0.6">1</tspan></text>
<line x1="514.06" y1="621" x2="514.06" y2="624.5" stroke="#444" stroke-width="1" />
<text y="632.7" font-family='"Liberation Sans", sans-serif' font-weight="bold" fill="#111" text-anchor="middle" x="514.06"><tspan font-size="7.2">2</tspan><tspan font-size="4.1" dy="-2.1" dx="0.6">2</tspan></text>
<line x1="523.29" y1="621" x2="523.29" y2="624.5" stroke="#444" stroke-width="1" />
<text y="632.7" font-family='"Liberation Sans", sans-serif' font-weight="bold" fill="#111" text-anchor="middle" x="523.29"><tspan font-size="7.2">2</tspan><tspan font-size="4.1" dy="-2.1" dx="0.6">3</tspan></text>
<line x1="532.52" y1="621" x2="532.52" y2="624.5" stroke="#444" stroke-width="1" />
<text y="632.7" font-family='"Liberation Sans", sans-serif' font-weight="bold" fill="#111" text-anchor="middle" x="532.52"><tspan font-size="7.2">2</tspan><tspan font-size="4.1" dy="-2.1" dx="0.6">4</tspan></text>
<line x1="541.75" y1="621" x2="541.75" y2="624.5" stroke="#444" stroke-width="1" />
<text y="632.7" font-family='"Liberation Sans", sans-serif' font-weight="bold" fill="#111" text-anchor="middle" x="541.75"><tspan font-size="7.2">2</tspan><tspan font-size="4.1" dy="-2.1" dx="0.6">5</tspan></text>
<line x1="550.98" y1="621" x2="550.98" y2="624.5" stroke="#444" stroke-width="1" />
<text y="632.7" font-family='"Liberation Sans", sans-serif' font-weight="bold" fill="#111" text-anchor="middle" x="550.98"><tspan font-size="7.2">2</tspan><tspan font-size="4.1" dy="-2.1" dx="0.6">6</tspan></text>
<line x1="495.6" y1="376" x2="495.6" y2="624.5" stroke="#333" stroke-width="1" />
<text x="471" y="649.4" font-family='"Liberation Serif", serif' font-size="10" font-weight="bold" font-style="normal" fill="#111" text-anchor="middle" >NR odds ratio</text>
<line x1="491.9" y1="667.8" x2="431.7" y2="667.8" stroke="#1c1ce8" stroke-width="1.3" />
<polygon points="428.2,667.8 433.4,665.1 433.4,670.5" fill="#1c1ce8"/>
<text x="462.4" y="680.3" font-family='"Liberation Serif", serif' font-size="7.7" font-weight="normal" font-style="normal" fill="#2c2cb8" text-anchor="middle" >Decreased NR</text>
<line x1="502.8" y1="667.8" x2="544.8" y2="667.8" stroke="#e8161b" stroke-width="1.3" />
<polygon points="548.3,667.8 543.1,665.1 543.1,670.5" fill="#e8161b"/>
<text x="526" y="680.3" font-family='"Liberation Serif", serif' font-size="7.7" font-weight="normal" font-style="normal" fill="#c42828" text-anchor="middle" >Increased NR</text>
</svg>
</body></html>
